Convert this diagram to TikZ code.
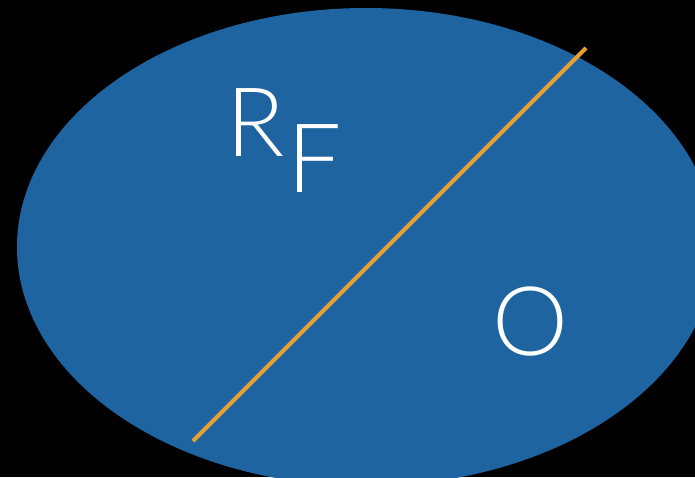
\documentclass[tikz,border=0pt]{standalone}
\usepackage{fontspec}
\newfontfamily\thinfont{Lato Light}
\definecolor{discblue}{RGB}{30,100,160}
\definecolor{lineorange}{RGB}{232,162,50}
\begin{document}
\begin{tikzpicture}[x=1pt,y=1pt,
  lbl/.style={text=white,font=\thinfont\fontsize{96}{96}\selectfont,inner sep=0pt,anchor=base west}]
\useasboundingbox (0,0) rectangle (695,477);
\fill[black] (0,0) rectangle (695,477);
\begin{scope}
\clip (0,0) rectangle (695,477);
\fill[discblue] (366,230) ellipse [x radius=349, y radius=239];
\end{scope}
\coordinate (a) at (193,36);
\coordinate (b) at (586,429);
\draw[lineorange,line width=4pt] (a) -- (b);
\node[lbl] (r) at (226,320) {R};
\node[lbl] (f) at (287,284) {F};
\node[lbl] (o) at (492,122) {O};
\end{tikzpicture}
\end{document}
